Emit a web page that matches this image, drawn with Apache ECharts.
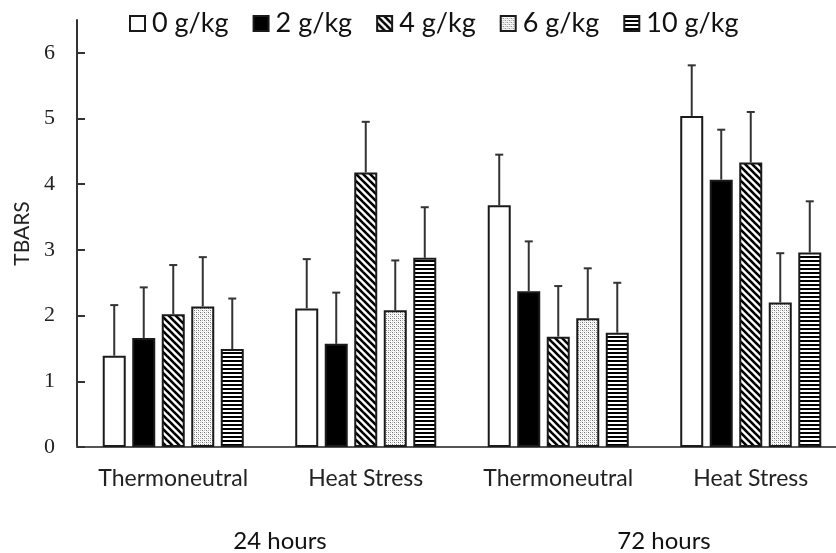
<!DOCTYPE html>
<html>
<head>
<meta charset="utf-8">
<script src="https://cdn.jsdelivr.net/npm/echarts@6/dist/echarts.min.js"></script>
<style>html,body{margin:0;padding:0;background:#fff}#c{width:836px;height:553px}</style>
</head>
<body>
<div id="c"></div>
<script>
const categories = ['Thermoneutral', 'Heat Stress', 'Thermoneutral', 'Heat Stress'];
const periodLabels = ['24 hours', '72 hours'];
const seriesNames = ['0 g/kg', '2 g/kg', '4 g/kg', '6 g/kg', '10 g/kg'];
const v0 = [1.39, 2.11, 3.68, 5.04];
const v2 = [1.66, 1.57, 2.37, 4.07];
const v4 = [2.02, 4.18, 1.68, 4.33];
const v6 = [2.14, 2.08, 1.96, 2.20];
const v10 = [1.49, 2.88, 1.74, 2.96];
const e0 = [0.77, 0.75, 0.77, 0.77];
const e2 = [0.77, 0.78, 0.76, 0.76];
const e4 = [0.75, 0.77, 0.77, 0.77];
const e6 = [0.75, 0.76, 0.76, 0.75];
const e10 = [0.77, 0.77, 0.76, 0.78];
const yTicks = [0, 1, 2, 3, 4, 5, 6];

const values = [v0, v2, v4, v6, v10];
const errors = [e0, e2, e4, e6, e10];

function tile(w, h, draw) {
  const c = document.createElement('canvas');
  c.width = w; c.height = h;
  const g = c.getContext('2d');
  g.fillStyle = '#fff'; g.fillRect(0, 0, w, h);
  draw(g);
  return { image: c, repeat: 'repeat' };
}
const pWhite = '#ffffff';
const pBlack = '#000000';
const pDiag = tile(7, 7, g => {
  g.strokeStyle = '#000'; g.lineWidth = 2.6;
  for (const x0 of [-7, 0, 7]) { g.beginPath(); g.moveTo(x0 - 1, -1); g.lineTo(x0 + 8, 8); g.stroke(); }
});
const pDots = tile(4, 4, g => {
  g.fillStyle = '#707070'; g.fillRect(0, 0, 1, 1); g.fillRect(2, 2, 1, 1);
  g.fillStyle = '#b0b0b0'; g.fillRect(2, 0, 1, 1); g.fillRect(0, 2, 1, 1);
  g.fillStyle = '#e4e4e4'; g.fillRect(1, 1, 1, 1); g.fillRect(3, 3, 1, 1);
});
const pHoriz = tile(2, 4, g => { g.fillStyle = '#000'; g.fillRect(0, 0, 2, 2); });
const fills = [pWhite, pBlack, pDiag, pDots, pHoriz];

const BAR_W = 23, BAR_GAP = 0.283;
const step = BAR_W * (1 + BAR_GAP);

const series = [];
seriesNames.forEach((name, i) => {
  series.push({
    name, type: 'bar', data: values[i], barWidth: BAR_W, barGap: (BAR_GAP * 100) + '%',
    itemStyle: { color: fills[i], borderColor: '#1a1a1a', borderWidth: 2 },
    z: 2
  });
});
seriesNames.forEach((name, i) => {
  series.push({
    type: 'custom', name: name + ' err', silent: true, z: 3,
    data: values[i].map((v, k) => [k, v, errors[i][k]]),
    renderItem: (params, api) => {
      const k = api.value(0), v = api.value(1), e = api.value(2);
      const p0 = api.coord([k, v]);
      const p1 = api.coord([k, v + e]);
      const x = p0[0] + (i - 2) * step;
      const style = { stroke: '#333', lineWidth: 2 };
      return { type: 'group', children: [
        { type: 'line', shape: { x1: x, y1: p0[1], x2: x, y2: p1[1] }, style },
        { type: 'line', shape: { x1: x - 4, y1: p1[1], x2: x + 4, y2: p1[1] }, style }
      ]};
    }
  });
});

const chart = echarts.init(document.getElementById('c'), null, { renderer: 'canvas' });
chart.setOption({
  animation: false,
  backgroundColor: '#fff',
  legend: {
    data: seriesNames, top: 5, left: 124, itemWidth: 15, itemHeight: 15, itemGap: 24,
    icon: 'rect',
    textStyle: { fontFamily: 'Lato', fontSize: 27, color: '#111', padding: [0, 0, 0, 2] }
  },
  grid: { left: 77, width: 770, top: 20, bottom: 106, containLabel: false, outerBoundsMode: 'none' },
  xAxis: {
    type: 'category', data: categories,
    axisLine: { lineStyle: { color: '#555', width: 2 } },
    axisTick: { show: false },
    axisLabel: { fontFamily: 'Lato', fontSize: 23, color: '#222', margin: 20, interval: 0 }
  },
  yAxis: {
    type: 'value', min: 0, max: 6.5, interval: 1,
    name: 'TBARS', nameLocation: 'middle', nameGap: 42, nameRotate: 90,
    nameTextStyle: { fontFamily: 'Lato', fontSize: 21, color: '#222' },
    axisLine: { show: true, lineStyle: { color: '#333', width: 2 } },
    axisTick: { show: true, inside: true, length: 8, customValues: yTicks, lineStyle: { color: '#333', width: 2 } },
    axisLabel: { customValues: yTicks, fontFamily: 'Liberation Serif', fontSize: 22, color: '#222', margin: 22 },
    splitLine: { show: false }
  },
  graphic: [
    { type: 'text', x: 280, y: 541, style: { text: periodLabels[0], fontFamily: 'Lato', fontSize: 24, fill: '#111', textAlign: 'center', textVerticalAlign: 'middle' } },
    { type: 'text', x: 664, y: 541, style: { text: periodLabels[1], fontFamily: 'Lato', fontSize: 24, fill: '#111', textAlign: 'center', textVerticalAlign: 'middle' } }
  ],
  series
});
</script>
</body>
</html>
